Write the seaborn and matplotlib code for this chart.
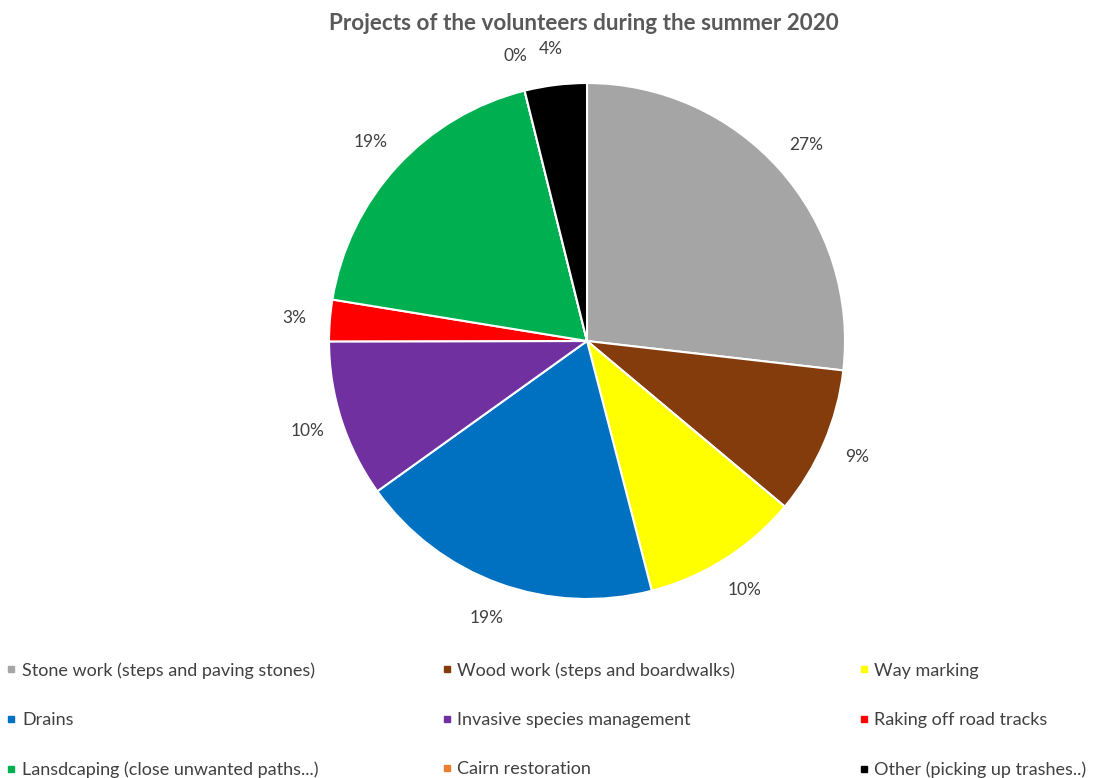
import numpy as np
import seaborn as sns
import matplotlib.pyplot as plt
from matplotlib.lines import Line2D

# Data (share of volunteer projects, %)
projects = [
    "Stone work (steps and paving stones)",
    "Wood work (steps and boardwalks)",
    "Way marking",
    "Drains",
    "Invasive species management",
    "Raking off road tracks",
    "Lansdcaping (close unwanted paths...)",
    "Cairn restoration",
    "Other (picking up trashes..)",
]
shares = [26.9, 9.3, 9.9, 19.2, 9.9, 2.6, 18.6, 0.0, 3.9]
colors = ["#A5A5A5", "#843C0C", "#FFFF00", "#0070C0", "#7030A0",
          "#FF0000", "#00B050", "#ED7D31", "#000000"]

sns.set_theme(style="white")
plt.rcParams["font.family"] = ["Lato", "DejaVu Sans"]

fig = plt.figure(figsize=(10.96, 7.78), dpi=100)
ax = fig.add_axes([0.3002, 0.2301, 0.4708, 0.6632])

wedges, texts, autotexts = ax.pie(
    shares, colors=colors, startangle=90, counterclock=False,
    autopct="%1.0f%%", pctdistance=1.14, radius=1.0,
    wedgeprops=dict(edgecolor="white", linewidth=1.5),
    textprops=dict(color="#404040", fontsize=12.5),
)
ax.set_xlim(-1, 1)
ax.set_ylim(-1, 1)
ax.set_aspect("equal")
ax.axis("off")

fig.text(0.533, 0.970, "Projects of the volunteers during the summer 2020",
         ha="center", va="center", fontsize=16.2, fontweight="bold", color="#595959")

# legend, filled row by row in 3 columns
handles = [Line2D([], [], marker="s", linestyle="none", markersize=5,
                  markerfacecolor=c, markeredgecolor=c) for c in colors]
order = [0, 3, 6, 1, 4, 7, 2, 5, 8]
fig.legend([handles[i] for i in order], [projects[i] for i in order],
           ncol=3, loc="lower left", bbox_to_anchor=(0.006, 0.0),
           frameon=False, fontsize=13, handlelength=0.5, handletextpad=0.35,
           columnspacing=6.85, labelspacing=1.85, labelcolor="#404040",
           borderpad=0.0, borderaxespad=0.0)

fig.savefig("out.png", dpi=100, facecolor="white")
